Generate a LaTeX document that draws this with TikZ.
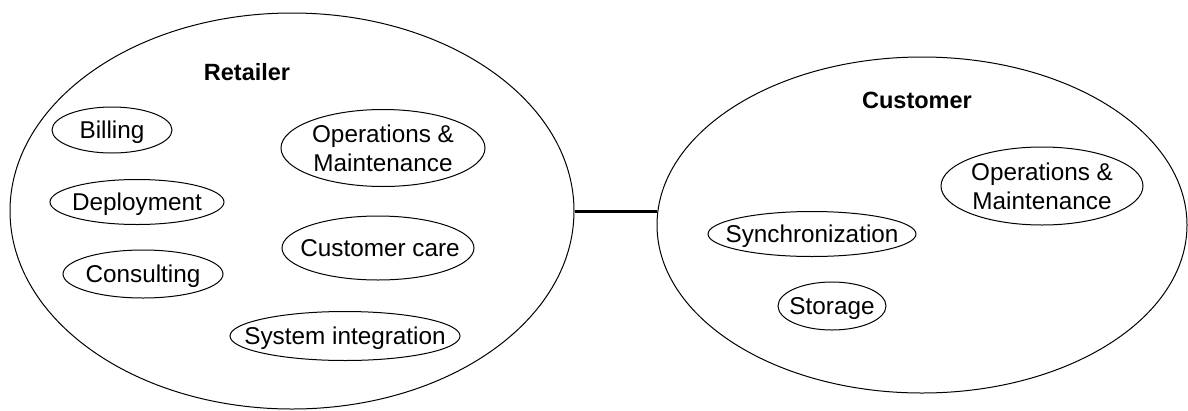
\documentclass[tikz,border=0pt]{standalone}
\usepackage{fontspec}
\setmainfont{Liberation Sans}
\usetikzlibrary{shapes.geometric}
\begin{document}
\begin{tikzpicture}[x=1pt,y=-1pt,
  realm/.style={draw, ellipse, line width=1pt, inner sep=0pt},
  service/.style={draw, ellipse, line width=1pt, inner sep=0pt},
  svctext/.style={font=\fontsize{24.3}{30}\selectfont, inner sep=0pt, anchor=base, yshift=-8pt},
  svctwo/.style={font=\fontsize{24.3}{29}\selectfont, inner sep=0pt, align=center},
  realmtitle/.style={font=\fontsize{23.5}{28}\selectfont\bfseries, inner sep=0pt, anchor=base},
  linkline/.style={line width=3pt}]
\useasboundingbox (0,0) rectangle (1188,410);

% the two domains
\node[realm, minimum width=564pt, minimum height=396pt] (retailer) at (292,211) {};
\node[realm, minimum width=530pt, minimum height=336pt] (customer) at (922,225) {};
\node[realmtitle] (retailer-t) at (247,80) {Retailer};
\node[realmtitle] (customer-t) at (917,108) {Customer};

% retailer services
\node[service, minimum width=120pt, minimum height=46pt] (billing) at (112,130) {};
\node[svctext] (billing-t) at (billing.center) {Billing};
\node[service, minimum width=174pt, minimum height=45pt] (deploy) at (137,202) {};
\node[svctext] (deploy-t) at (deploy.center) {Deployment};
\node[service, minimum width=160pt, minimum height=48pt] (consult) at (143,274) {};
\node[svctext] (consult-t) at (consult.center) {Consulting};
\node[service, minimum width=204pt, minimum height=77pt] (opsR) at (383,148) {};
\node[svctwo] (opsR-t) at (opsR.center) {Operations \&\\Maintenance};
\node[service, minimum width=192pt, minimum height=64pt] (care) at (378,248) {};
\node[svctext, xshift=2pt] (care-t) at (care.center) {Customer care};
\node[service, minimum width=230pt, minimum height=49pt] (sysint) at (345,336) {};
\node[svctext] (sysint-t) at (sysint.center) {System integration};

% customer services
\node[service, minimum width=202pt, minimum height=78pt] (opsC) at (1042,186) {};
\node[svctwo] (opsC-t) at (opsC.center) {Operations \&\\Maintenance};
\node[service, minimum width=208pt, minimum height=45pt] (sync) at (812,234) {};
\node[svctext] (sync-t) at (sync.center) {Synchronization};
\node[service, minimum width=108pt, minimum height=48pt] (storage) at (832,306) {};
\node[svctext] (storage-t) at (storage.center) {Storage};

% link between the domains
\draw[linkline] (retailer.east) -- (retailer.east -| customer.west);
\end{tikzpicture}
\end{document}
